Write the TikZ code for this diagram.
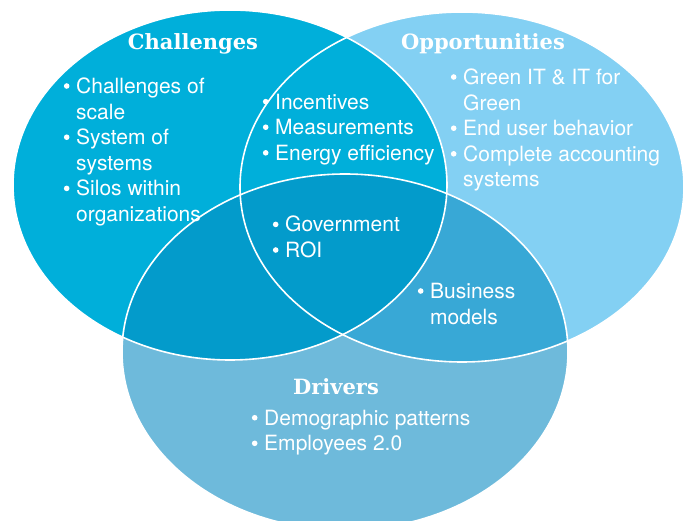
\documentclass[tikz,border=0pt]{standalone}
\usepackage{fontspec}
\setmainfont{TeX Gyre Heros}
\newfontfamily\headfont{DejaVu Serif}
\definecolor{chal}{HTML}{00AFDA}
\definecolor{oppo}{HTML}{83D0F3}
\definecolor{driv}{HTML}{6EBADB}
\definecolor{chaldriv}{HTML}{039BCB}
\definecolor{oppodriv}{HTML}{38A8D6}
\newcommand{\itm}{\strut\llap{\tikz[baseline=-7.5pt]\fill[white] (0,0) circle (2.8pt);\hspace{6.7pt}}}
\begin{document}
\begin{tikzpicture}[x=1pt, y=-1pt, font=\fontsize{21}{25.6}\selectfont,
        head/.style={anchor=base, text=white, font=\headfont\bfseries\fontsize{21}{24}\selectfont},
        items/.style={anchor=north west, inner sep=0pt, align=left, text=white},
        ring/.style={white, line width=1.6pt}]
        \useasboundingbox (0,0) rectangle (689,521);
        \clip (0,0) rectangle (689,521);
        \fill[oppo] (462,187) ellipse [x radius=222pt, y radius=175pt];
        \fill[driv] (345,352) ellipse [x radius=223pt, y radius=178pt];
        \fill[chal] (230,185) ellipse [x radius=217pt, y radius=175pt];
        \begin{scope}
                \clip (462,187) ellipse [x radius=222pt, y radius=175pt];
                \fill[oppodriv] (345,352) ellipse [x radius=223pt, y radius=178pt];
        \end{scope}
        \begin{scope}
                \clip (230,185) ellipse [x radius=217pt, y radius=175pt];
                \fill[chaldriv] (345,352) ellipse [x radius=223pt, y radius=178pt];
        \end{scope}
        \draw[ring] (230,185) ellipse [x radius=217pt, y radius=175pt];
        \draw[ring] (462,187) ellipse [x radius=222pt, y radius=175pt];
        \draw[ring] (345,352) ellipse [x radius=223pt, y radius=178pt];
        \node[head] (chalHead) at (193,50) {Challenges};
        \node[head] (oppoHead) at (483,50) {Opportunities};
        \node[head] (drivHead) at (336,395) {Drivers};
        \node[items] (chalList) at (76,75.4) {\itm Challenges of\\ scale\\ \itm System of\\ systems\\ \itm Silos within\\ organizations};
        \node[items] (chalOppo) at (275,91) {\itm Incentives\\ \itm Measurements\\ \itm Energy efficiency};
        \node[items] (oppoList) at (463,66.4) {\itm Green IT \& IT for\\ Green\\ \itm End user behavior\\ \itm Complete accounting\\ systems};
        \node[items] (allThree) at (285,213.8) {\itm Government\\ \itm ROI};
        \node[items] (oppoDriv) at (430,280.4) {\itm Business\\ models};
        \node[items] (drivList) at (264,407.1) {\itm Demographic patterns\\ \itm Employees 2.0};
\end{tikzpicture}
\end{document}
